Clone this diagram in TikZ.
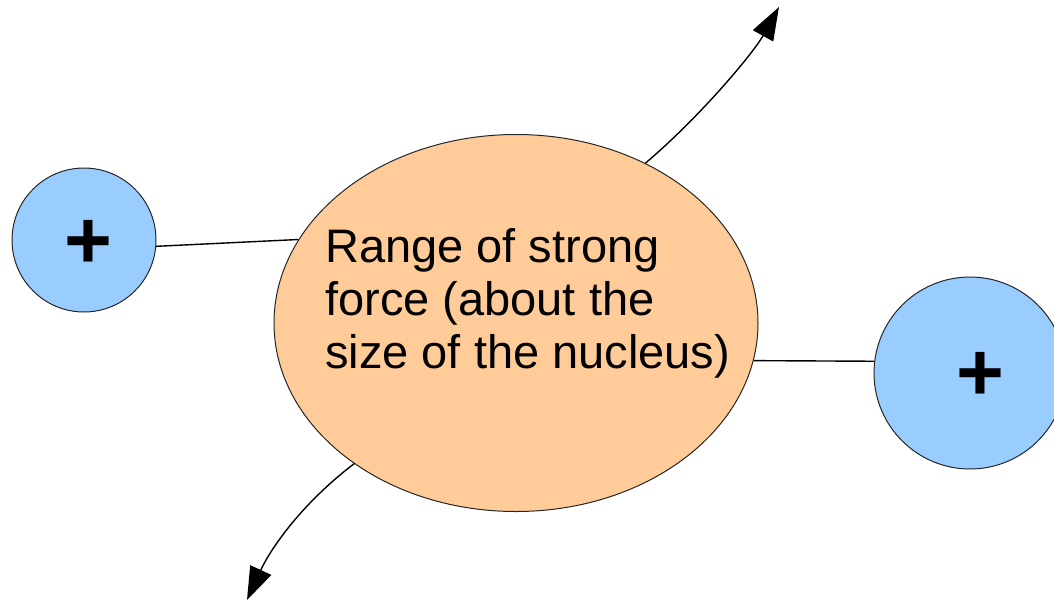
\documentclass[tikz,border=0pt]{standalone}
\usepackage{fontspec}
\setmainfont{Liberation Sans}
\usetikzlibrary{shapes.geometric,arrows.meta}
\definecolor{protonblue}{HTML}{99CCFF}
\definecolor{rangeorange}{HTML}{FFCC99}
\tikzset{
  proton/.style={circle, draw=black!85, line width=1pt, fill=protonblue, inner sep=0pt},
  rangebox/.style={ellipse, draw=black!85, line width=1pt, fill=rangeorange, inner sep=0pt},
  plussign/.style={font=\fontsize{82}{82}\selectfont\bfseries, inner sep=0pt},
  link/.style={draw=black, line width=1.4pt},
  away/.style={draw=black, line width=1.4pt, -{Triangle[length=33pt,width=23pt]}},
  rangetext/.style={align=left, inner sep=0pt, font=\fontsize{47}{53}\selectfont}
}
\begin{document}
\begin{tikzpicture}[x=1pt,y=-1pt]
\useasboundingbox (0,0) rectangle (1054,602);
\node[rangebox, minimum width=484pt, minimum height=377pt] (el) at (516,323) {};
\node[proton, minimum size=144pt] (lc) at (84,240) {};
\node[proton, minimum size=192pt] (rc) at (970,373) {};
\node[plussign] (lp) at (88,244) {+};
\node[plussign] (rp) at (980,376) {+};
\node[rangetext, anchor=base west] (txt) at (325,368) {Range of strong\\force (about the\\size of the nucleus)};
\coordinate (tipup) at (779,7);
\coordinate (tipdown) at (247,600);
\draw[link] (lc.-5) -- (el.159.6);
\draw[link] (el.-9.9) -- (rc.173);
\draw[away] (el.51.9) .. controls (702,115) and (754,52) .. (tipup);
\draw[away] (el.221) .. controls (300,505) and (270,550) .. (tipdown);
\end{tikzpicture}
\end{document}
